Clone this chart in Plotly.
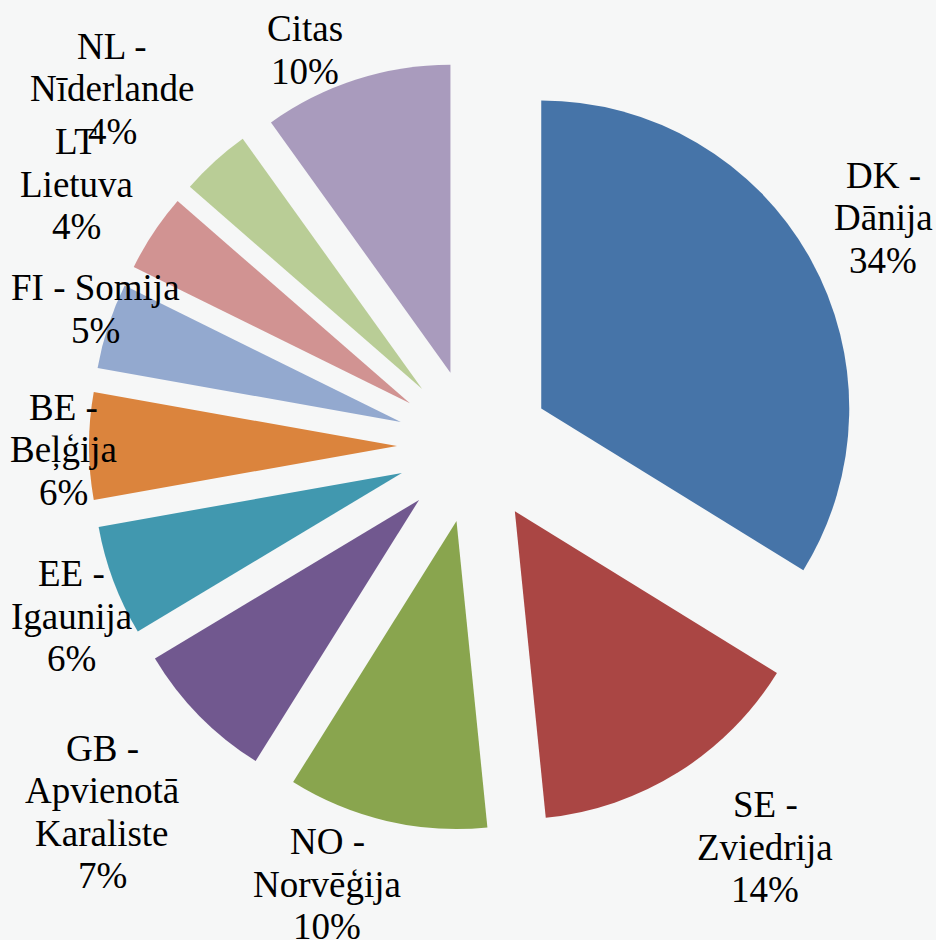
import plotly.graph_objects as go

# ---- data ----
codes = ["DK", "SE", "NO", "GB", "EE", "BE", "FI", "LT", "NL", "Citas"]
label_lines = [["DK -", "Dānija"], ["SE -", "Zviedrija"], ["NO -", "Norvēģija"],
               ["GB -", "Apvienotā", "Karaliste"], ["EE -", "Igaunija"],
               ["BE -", "Beļģija"], ["FI - Somija"], ["LT", "Lietuva"],
               ["NL -", "Nīderlande"], ["Citas"]]
# slice sizes (%)
shares = [33.8, 14.6, 10.5, 7.5, 5.8, 5.6, 4.5, 4.1, 3.7, 9.9]
# percentages printed on the labels
label_pct = [34, 14, 10, 7, 6, 6, 5, 4, 4, 10]

# ---- style / layout ----
colors = ["#4674A8", "#AA4644", "#89A54E", "#71588F", "#4198AF",
          "#DB843D", "#93A9CF", "#D19392", "#B9CD96", "#A99BBD"]
W, H = 936, 940
pie_box = (89, 61, 859, 831)  # left, top, right, bottom in px
# label block centres (px) and line spacing
label_centres = [(883, 218), (765, 847), (327, 884), (102, 812), (71, 616),
                 (63, 450), (95, 309), (76, 184), (112, 89), (305, 50)]
line_gap = 42.5
font = dict(family="Liberation Serif", size=37, color="#000000")

fig = go.Figure(go.Pie(
    labels=codes,
    values=shares,
    textinfo="none",
    sort=False,
    direction="clockwise",
    rotation=0,
    pull=[0.25] * len(shares),
    marker=dict(colors=colors, line=dict(width=0)),
    showlegend=False,
    hoverinfo="label+percent",
    domain=dict(x=[pie_box[0] / W, pie_box[2] / W],
                y=[1 - pie_box[3] / H, 1 - pie_box[1] / H]),
))

annotations = []
for lines, v, (cx, cy) in zip(label_lines, label_pct, label_centres):
    all_lines = lines + [f"{v}%"]
    n = len(all_lines)
    for i, t in enumerate(all_lines):
        py = cy + (i - (n - 1) / 2) * line_gap
        annotations.append(dict(
            x=cx / W, y=1 - py / H, xref="paper", yref="paper",
            text=t, showarrow=False, xanchor="center", yanchor="middle",
            font=font,
        ))

fig.update_layout(
    width=W, height=H,
    margin=dict(l=0, r=0, t=0, b=0),
    paper_bgcolor="#F6F7F7",
    plot_bgcolor="#F6F7F7",
    annotations=annotations,
)

fig.write_html("out.html",
               config={"displayModeBar": False},
               post_script="document.body.style.margin='0';document.body.style.overflow='hidden';")
